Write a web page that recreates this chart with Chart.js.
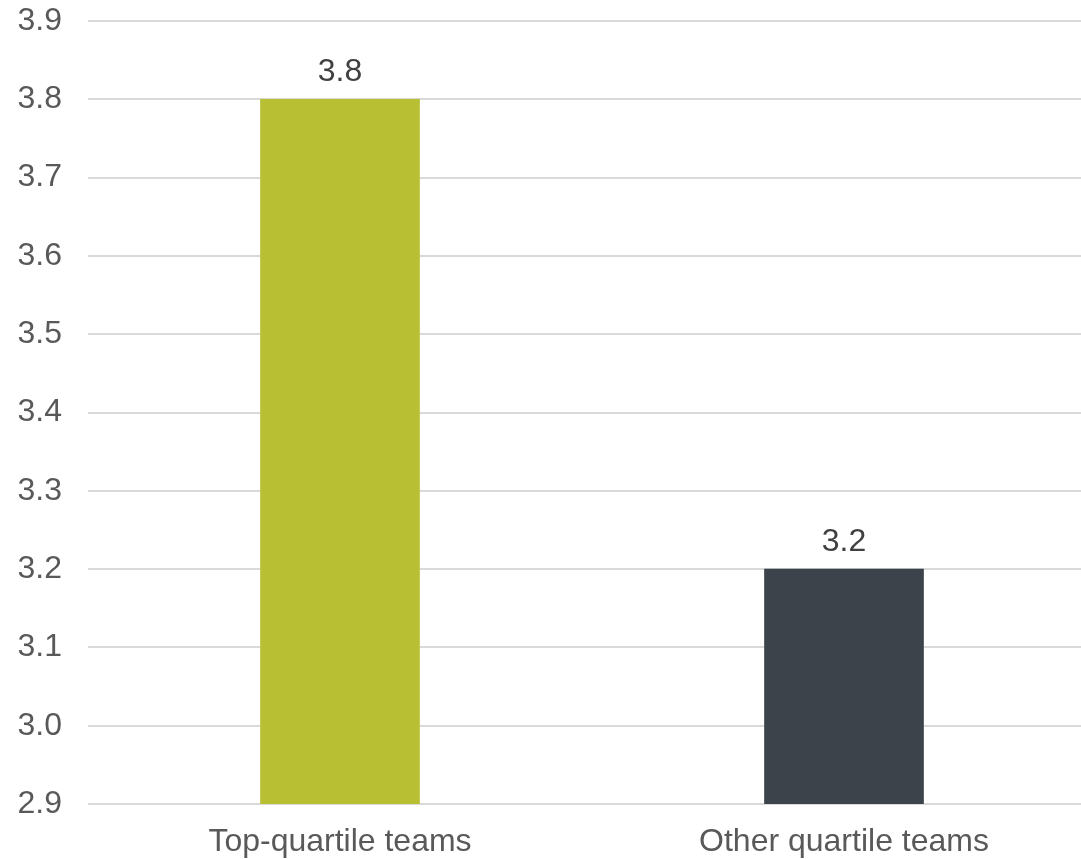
<!DOCTYPE html>
<html>
<head>
<meta charset="utf-8">
<script src="https://cdn.jsdelivr.net/npm/chart.js@4"></script>
<style>
  html, body { margin: 0; padding: 0; background: #fff; overflow: hidden; }
  #wrap { width: 1096px; height: 859px; }
</style>
</head>
<body>
<div id="wrap"><canvas id="chart"></canvas></div>
<script>
const categories = ['Top-quartile teams', 'Other quartile teams'];
const values = [3.8, 3.2];
const barColors = ['#B9BF33', '#3C434A'];
const yMin = 2.9;
const yMax = 3.9;
const yStep = 0.1;

// value labels above each bar
const barLabels = {
    id: 'barLabels',
    afterDatasetsDraw(chart) {
        const ctx = chart.ctx;
        ctx.save();
        ctx.font = '32px "Liberation Sans", Arial, sans-serif';
        ctx.fillStyle = '#404040';
        ctx.textAlign = 'center';
        ctx.textBaseline = 'alphabetic';
        chart.getDatasetMeta(0).data.forEach((bar, i) => {
            ctx.fillText(values[i].toFixed(1), bar.x, bar.y - 18);
        });
        ctx.restore();
    }
};

new Chart(document.getElementById('chart'), {
    type: 'bar',
    data: {
        labels: categories,
        datasets: [{
            data: values,
            backgroundColor: barColors,
            barThickness: 159
        }]
    },
    options: {
        responsive: true,
        maintainAspectRatio: false,
        animation: false,
        layout: { padding: { top: 21, right: 0, bottom: 0, left: 0 } },
        plugins: {
            legend: { display: false },
            tooltip: { enabled: false }
        },
        scales: {
            x: {
                grid: { display: false },
                border: { display: false },
                afterFit(scale) { scale.height = 55; },
                ticks: {
                    padding: 11,
                    color: '#595959',
                    font: { family: '"Liberation Sans", Arial, sans-serif', size: 32 }
                }
            },
            y: {
                min: yMin,
                max: yMax,
                afterFit(scale) {
                    scale.width = 88;
                    scale.paddingTop = 0;
                    scale.paddingBottom = 0;
                },
                grid: { color: '#D9D9D9', lineWidth: 2, drawTicks: false },
                border: { display: false },
                ticks: {
                    stepSize: yStep,
                    padding: 26,
                    color: '#595959',
                    font: { family: '"Liberation Sans", Arial, sans-serif', size: 32 },
                    callback: v => Number(v).toFixed(1)
                }
            }
        }
    },
    plugins: [barLabels]
});
</script>
</body>
</html>
